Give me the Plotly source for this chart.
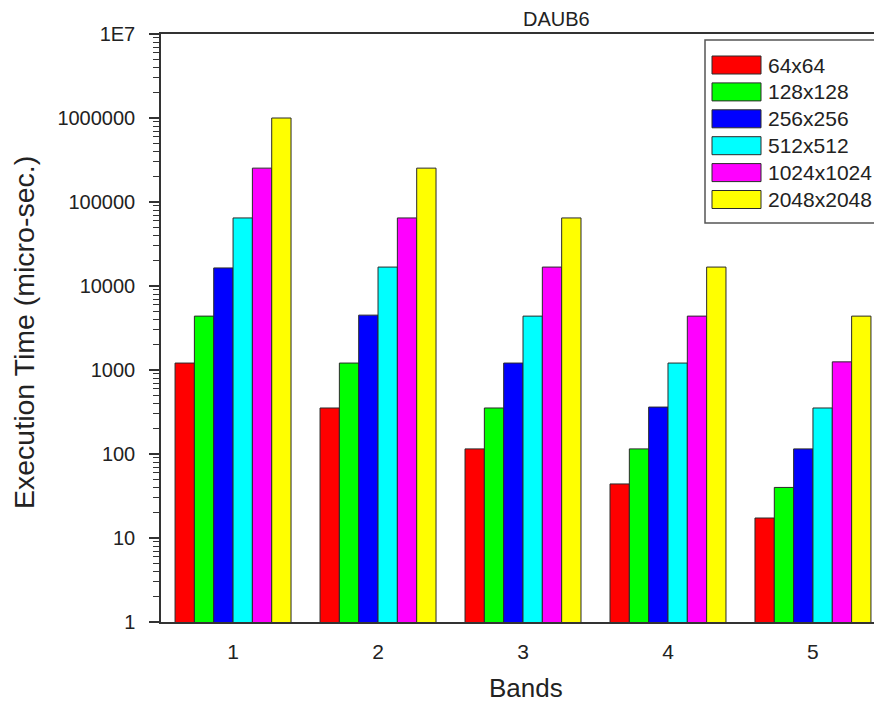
import plotly.graph_objects as go

# Execution time (micro-seconds) per decomposition band, DAUB6 wavelet
bands = [1, 2, 3, 4, 5]
sizes = ["64x64", "128x128", "256x256", "512x512", "1024x1024", "2048x2048"]
t_64 = [1210, 353, 115, 44, 17.3]
t_128 = [4380, 1210, 353, 115, 40]
t_256 = [16400, 4500, 1210, 362, 115]
t_512 = [64600, 16800, 4380, 1210, 353]
t_1024 = [253000, 64600, 16800, 4380, 1250]
t_2048 = [1000000, 253000, 64600, 16800, 4380]
series = [t_64, t_128, t_256, t_512, t_1024, t_2048]

colors = ["#ff0000", "#00ff00", "#0000ff", "#00ffff", "#ff00ff", "#ffff00"]
y_major = [1, 10, 100, 1000, 10000, 100000, 1000000, 10000000]
y_major_text = ["1", "10", "100", "1000", "10000", "100000", "1000000", "1E7"]
# minor ticks at 2..9 within each decade
y_minor = [m * 10 ** d for d in range(7) for m in range(2, 10)]

W, H = 874, 704
L, R, T, B = 161, 0, 34, 82
PW, PH = W - L - R, H - T - B
FONT = "Liberation Sans, Arial, sans-serif"
INK = "#222222"
AXIS = "#333333"


def px_x(x):
    return (x - L) / PW


def px_y(y):
    return (H - B - y) / PH


fig = go.Figure()
for name, vals, c in zip(sizes, series, colors):
    fig.add_trace(go.Bar(
        x=bands, y=vals, name=name,
        marker=dict(color=c, line=dict(color="#2a2a2a", width=1)),
        showlegend=False,
    ))
# transparent copy of one series on the overlay axis that draws the long major ticks
fig.add_trace(go.Scatter(x=bands, y=t_64, yaxis="y2", mode="markers",
                         marker=dict(opacity=0), showlegend=False, hoverinfo="skip"))

shapes = []
annotations = []

# legend frame
shapes.append(dict(type="rect", xref="paper", yref="paper",
                   x0=px_x(705), x1=px_x(890), y0=px_y(223), y1=px_y(40),
                   line=dict(color="#555555", width=1.5), fillcolor="white", layer="above"))
for i, (name, c) in enumerate(zip(sizes, colors)):
    cy = 65 + i * 26.9
    shapes.append(dict(type="rect", xref="paper", yref="paper",
                       x0=px_x(712), x1=px_x(761), y0=px_y(cy + 9), y1=px_y(cy - 9),
                       line=dict(color="#2a2a2a", width=1), fillcolor=c, layer="above"))
    annotations.append(dict(xref="paper", yref="paper", x=px_x(766), y=px_y(cy),
                            text=name, showarrow=False, xanchor="left", yanchor="middle",
                            font=dict(family=FONT, size=21, color=INK)))

annotations += [
    dict(xref="paper", yref="paper", x=px_x(556), y=px_y(19), text="DAUB6",
         showarrow=False, xanchor="center", yanchor="middle",
         font=dict(family=FONT, size=20, color=INK)),
    dict(xref="paper", yref="paper", x=px_x(526), y=px_y(688), text="Bands",
         showarrow=False, xanchor="center", yanchor="middle",
         font=dict(family=FONT, size=26, color=INK)),
    dict(xref="paper", yref="paper", x=px_x(24), y=px_y(333),
         text="Execution Time (micro-sec.)", textangle=-90,
         showarrow=False, xanchor="center", yanchor="middle",
         font=dict(family=FONT, size=28.5, color=INK)),
]

all_vals = y_major + y_minor
all_text = y_major_text + [""] * len(y_minor)

fig.update_layout(
    width=W, height=H,
    margin=dict(l=L, r=R, t=T, b=B, pad=0),
    paper_bgcolor="white", plot_bgcolor="white",
    barmode="group", bargap=0.2, bargroupgap=0,
    shapes=shapes, annotations=annotations,
    font=dict(family=FONT, color=INK),
    yaxis=dict(
        type="log", range=[0, 7], tickmode="array",
        tickvals=all_vals, ticktext=all_text,
        ticks="outside", ticklen=6, tickwidth=1.2, tickcolor=AXIS,
        showgrid=False, zeroline=False,
        showline=True, mirror=False, linecolor=AXIS, linewidth=1.5,
        tickfont=dict(family=FONT, size=20, color=INK), ticklabelstandoff=14,
    ),
    yaxis2=dict(
        overlaying="y", side="left", type="log", range=[0, 7],
        tickmode="array", tickvals=y_major, showticklabels=False,
        ticks="outside", ticklen=11, tickwidth=1.5, tickcolor=AXIS,
        showgrid=False, zeroline=False, showline=False,
    ),
)
fig.update_xaxes(
    range=[0.503, 5.421], tickvals=bands, ticktext=[str(b) for b in bands],
    ticks="", showgrid=False, zeroline=False,
    showline=True, mirror=True, linecolor=AXIS, linewidth=1.5,
    tickfont=dict(family=FONT, size=21, color=INK), ticklabelstandoff=10,
)

fig.write_html("out.html")
